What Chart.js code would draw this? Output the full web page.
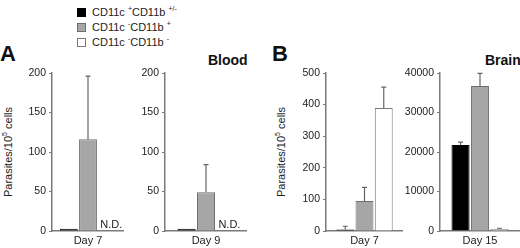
<!DOCTYPE html>
<html>
<head>
<meta charset="utf-8">
<script src="https://cdn.jsdelivr.net/npm/chart.js@4.4.1/dist/chart.umd.min.js"></script>
<style>
  body { margin: 0; width: 520px; height: 248px; position: relative; overflow: hidden; background: #fff;
         font-family: "Liberation Sans", Arial, sans-serif; color: #222; -webkit-font-smoothing: antialiased; }
  canvas { position: absolute; top: 60px; }
  .t { position: absolute; white-space: nowrap; line-height: 1; }
  .panel { font-size: 22px; font-weight: bold; color: #111; }
  .tissue { font-size: 14px; font-weight: bold; color: #111; }
  .legend { position: absolute; left: 77px; font-size: 11px; line-height: 1; white-space: nowrap; color: #222; }
  .legend i { display: inline-block; width: 9px; height: 9px; margin-right: 6px; vertical-align: -1px; box-sizing: border-box; }
  sup { font-size: 7px; vertical-align: 5px; line-height: 0; }
  .ytitle { position: absolute; font-size: 11px; white-space: nowrap; color: #222; transform: translate(-50%, -50%) rotate(-90deg); }
</style>
</head>
<body>
<div class="t panel" style="left:0px;top:43px">A</div>
<div class="t panel" style="left:272px;top:43px">B</div>
<div class="t tissue" style="left:208px;top:53px">Blood</div>
<div class="t tissue" style="left:485px;top:53px">Brain</div>
<div id="legend"></div>
<div class="ytitle" style="left:8px;top:152px">Parasites/10<sup>5</sup> cells</div>
<div class="ytitle" style="left:281px;top:152px">Parasites/10<sup>5</sup> cells</div>

<canvas id="blood7" width="124" height="188" style="left:0px"></canvas>
<canvas id="blood9" width="117" height="188" style="left:130px"></canvas>
<canvas id="brain7" width="113" height="188" style="left:290px"></canvas>
<canvas id="brain15" width="118" height="188" style="left:402px"></canvas>

<script>
// cell populations (legend order)
const populations = ['CD11c', 'CD11c', 'CD11c'];
const popSupC = ['+', '-', '-'];
const popSupB = ['+/-', '+', '-'];
const popColors = ['#000000', '#a6a6a6', '#ffffff'];
const popBorders = ['#000000', '#6e6e6e', '#7a7a7a'];

// parasites / 10^5 cells, means and upper error
const bloodDay7 = [3, 116, null];
const bloodDay7Err = [0, 80, null];
const bloodDay9 = [3, 49, null];
const bloodDay9Err = [0, 35, null];
const brainDay7 = [5, 95, 389];
const brainDay7Err = [10, 43, 66];
const brainDay15 = [21800, 36700, 500];
const brainDay15Err = [700, 3200, 200];

const FONT = '"Liberation Sans", Arial, sans-serif';
const AXIS = '#7a7a7a';

document.getElementById('legend').innerHTML = populations.map((p, i) =>
  `<div class="legend" style="top:${7 + i * 15}px"><i style="background:${popColors[i]};border:1px solid ${popBorders[i]}"></i>` +
  `${p} <sup>${popSupC[i]}</sup>CD11b <sup>${popSupB[i]}</sup></div>`
).join('');

const errorBars = {
  id: 'errorBars',
  afterDatasetsDraw(chart, args, opts) {
    const ctx = chart.ctx;
    const y = chart.scales.y;
    ctx.save();
    chart.data.datasets.forEach((ds, i) => {
      const bar = chart.getDatasetMeta(i).data[0];
      const v = ds.data[0];
      if (v === null) {
        ctx.fillStyle = '#222';
        ctx.font = '11px ' + FONT;
        ctx.textAlign = 'left';
        ctx.textBaseline = 'alphabetic';
        ctx.fillText('N.D.', bar.x - bar.width / 2 + 2, y.getPixelForValue(0) - 3);
        return;
      }
      const e = opts.errors[i];
      if (!e) return;
      const y0 = y.getPixelForValue(v);
      const y1 = y.getPixelForValue(v + e);
      ctx.strokeStyle = '#666';
      ctx.lineWidth = 1.2;
      ctx.beginPath();
      ctx.moveTo(bar.x, y0);
      ctx.lineTo(bar.x, y1);
      ctx.moveTo(bar.x - 2.5, y1);
      ctx.lineTo(bar.x + 2.5, y1);
      ctx.stroke();
    });
    ctx.restore();
  }
};

function makeChart(id, day, values, errors, max, step, axisWidth, catPct) {
  return new Chart(document.getElementById(id), {
    type: 'bar',
    data: {
      labels: [day],
      datasets: values.map((v, i) => ({
        data: [v],
        backgroundColor: popColors[i],
        borderColor: popBorders[i],
        borderWidth: 1,
        categoryPercentage: catPct,
        barPercentage: 0.93
      }))
    },
    options: {
      responsive: false,
      animation: false,
      devicePixelRatio: 1,
      layout: { padding: { top: 13, right: 0, left: 0, bottom: 0 } },
      plugins: { legend: { display: false }, tooltip: { enabled: false }, errorBars: { errors } },
      scales: {
        x: {
          grid: { display: false, drawTicks: false, tickLength: 0 },
          border: { color: AXIS, width: 1.5 },
          ticks: { color: '#222', font: { size: 11, family: FONT }, padding: 3 },
          afterFit(s) { s.height = 17; }
        },
        y: {
          min: 0,
          max,
          ticks: { stepSize: step, color: '#222', font: { size: 10.5, family: FONT }, padding: 3, callback: v => String(v) },
          grid: { drawOnChartArea: false, drawTicks: true, tickLength: 3, color: AXIS },
          border: { color: AXIS, width: 1.5 },
          afterFit(s) { s.width = axisWidth; }
        }
      }
    },
    plugins: [errorBars]
  });
}

makeChart('blood7', 'Day 7', bloodDay7, bloodDay7Err, 200, 50, 52, 0.8);
makeChart('blood9', 'Day 9', bloodDay9, bloodDay9Err, 200, 50, 35, 0.71);
makeChart('brain7', 'Day 7', brainDay7, brainDay7Err, 500, 100, 36, 0.75);
makeChart('brain15', 'Day 15', brainDay15, brainDay15Err, 40000, 10000, 38, 0.73);
</script>
</body>
</html>
